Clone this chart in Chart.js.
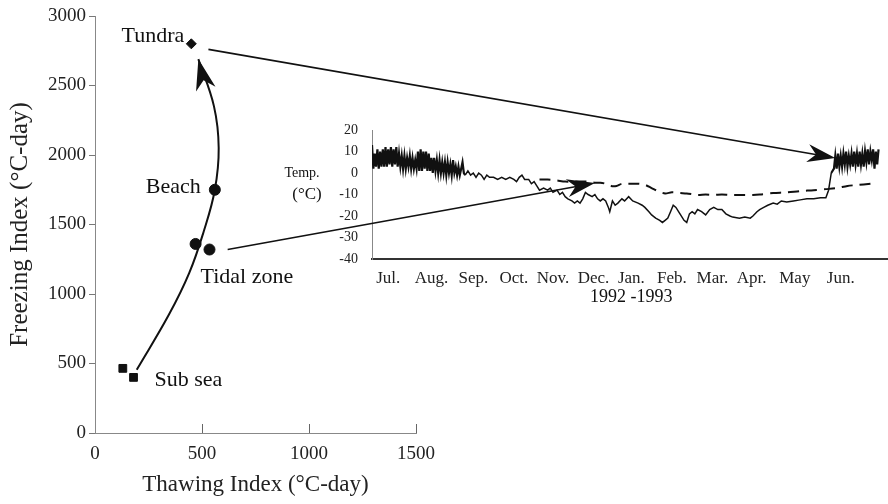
<!DOCTYPE html>
<html>
<head>
<meta charset="utf-8">
<script src="https://cdn.jsdelivr.net/npm/chart.js@4.4.0/dist/chart.umd.min.js"></script>
<style>
  html, body { margin: 0; padding: 0; background: #fff; }
  #wrap { position: relative; width: 888px; height: 504px; }
  #wrap canvas { position: absolute; left: 0; top: 0; }
  #inset { pointer-events: none; }
</style>
</head>
<body>
<div id="wrap">
  <canvas id="main" width="888" height="504"></canvas>
  <canvas id="inset" width="888" height="504"></canvas>
</div>
<script>
// ---- main chart: thawing vs freezing index ----
const tundraPts = [[450, 2800]];
const beachPts = [[560, 1750]];
const tidalPts = [[470, 1360], [535, 1320]];
const subseaPts = [[130, 465], [180, 400]];
const trendCurve = [[195, 455], [345, 850], [440, 1150], [508, 1450], [560, 1750], [578, 2050], [556, 2350], [483, 2690]];

// ---- inset: daily temperature 1992-1993 ----
const monthLabels = ["Jul.", "Aug.", "Sep.", "Oct.", "Nov.", "Dec.", "Jan.", "Feb.", "Mar.", "Apr.", "May", "Jun."];
const monthTickDays = [15, 47, 78, 108, 137, 167, 195, 225, 255, 284, 316, 350];
const tempTicks = [20, 10, 0, -10, -20, -30, -40];

// solid line (tundra)
const tundraDays = [
  3, 4, 5, 6, 7, 8, 9, 10, 11, 12, 13, 14, 15, 16, 17, 18, 19, 20, 21, 22, 23, 24, 25, 26, 27, 28, 29, 30,
  31, 32, 33, 34, 35, 36, 37, 38, 39, 40, 41, 42, 43, 44, 45, 46, 47, 48, 49, 50, 51, 52, 53, 54, 55, 56,
  57, 58, 59, 60, 61, 62, 63, 64, 65, 66, 67, 68, 69, 70, 71, 72,
  74, 76, 78, 80, 82, 84, 86, 88, 90, 93, 96, 99, 102, 105, 108, 110, 112, 114, 116, 119, 121, 123, 125,
  127, 130, 133, 135, 137, 140, 142, 144, 146, 148, 151, 153, 155, 157, 159, 161, 163, 166, 168, 170, 172,
  174, 176, 178, 179, 181, 183, 185, 188, 190, 193, 196, 200, 203, 205, 208, 210, 213, 216, 218, 220, 222,
  224, 226, 228, 231, 234, 236, 238, 240, 242, 244, 247, 250, 253, 256, 259, 262, 265, 268, 270, 275, 279,
  283, 285, 288, 290, 293, 296, 300, 303, 306, 310, 315, 320, 325, 330, 335, 339, 341, 343, 345,
  346, 347, 348, 349, 350, 351, 352, 353, 354, 355, 356, 357, 358, 359, 360, 361, 362, 363, 364, 365,
  366, 367, 368, 369, 370, 371, 372, 373, 374, 375, 376, 377, 378
];
const tundraTemps = [
  13, 2, 9, 3, 11, 2, 10, 3, 11, 3, 12, 3, 11, 4, 12, 3, 11, 4, 12, 3, 9, 3, 8, 2, 8, 2, 7, 3,
  8, 2, 7, 2, 6, 2, 10, 1, 11, 1, 10, 2, 10, 1, 9, 1, 7, 0, 7, 1, 6, 0, 6, 0, 5, 0,
  5, -1, 5, 0, 4, -1, 6, 0, 3, -1, 3, -1, 2, 5, 0, -1,
  1, -1, 0, -2, 0, -1, -3, -1, -2, -2, -3, -2, -3, -2, -3, -4, -2, -1, -3, -3, -5, -4, -6,
  -8, -7, -8, -7, -9, -8, -10, -9, -11, -12, -13, -14, -13, -14, -12, -9, -10, -11, -10, -12, -13,
  -12, -13, -16, -18, -13, -15, -14, -12, -13, -11, -13, -14, -15, -16, -18, -19.5, -21, -22, -23, -22, -21,
  -18, -15, -16, -19, -22, -23, -19, -18, -19, -17, -18, -19.5, -17, -16, -17, -17, -19, -20, -20.5, -21, -20.5,
  -21, -20, -18, -17, -16, -15, -14, -14.5, -13, -13.5, -13, -12.5, -12, -12, -11.5, -11.5, -8, 0, 2,
  8, 2, 9, 3, 8, 3, 9, 4, 10, 3, 8, 4, 9, 3, 10, 4, 9, 3, 10, 4,
  9, 3, 10, 5, 11, 4, 10, 6, 11, 2, 10, 4, 11
];

// dashed line (tidal zone)
const tidalDays = [127, 133, 140, 146, 152, 158, 163, 168, 172, 176, 180, 184, 188, 193, 200, 205, 210, 215, 220,
  225, 231, 236, 244, 250, 256, 262, 268, 275, 285, 290, 300, 310, 320, 330, 339, 347, 355, 362, 372];
const tidalTemps = [-3, -3, -3.5, -4, -4, -4, -4, -4.5, -4.5, -5, -6, -6, -5, -5, -5, -5.5, -7, -8.5, -9.5,
  -9, -9.3, -9.5, -10.2, -10, -10.2, -10, -10.2, -10.2, -10.2, -10, -9.3, -9, -8.4, -8, -7.5, -7, -6, -5.6, -5];

// arrows linking the two panels: start in (thaw, freeze), end in (day, temp)
const tundraLinkFrom = [530, 2760];
const tundraLinkTo = [346, 7];
const tidalLinkFrom = [620, 1320];
const tidalLinkTo = [168, -4.7];

const SERIF = "'Liberation Serif', 'DejaVu Serif', serif";
const INK = "#111";

function toXY(arr) {
  return arr.map(p => ({ x: p[0], y: p[1] }));
}
function zipXY(xs, ys) {
  return xs.map((x, i) => ({ x: x, y: ys[i] }));
}

function arrowHead(ctx, tipX, tipY, fromX, fromY, len, half) {
  const a = Math.atan2(tipY - fromY, tipX - fromX);
  const c = Math.cos(a), s = Math.sin(a);
  const bx = tipX - c * len, by = tipY - s * len;
  const nx = tipX - c * len * 0.7, ny = tipY - s * len * 0.7;
  ctx.beginPath();
  ctx.moveTo(tipX, tipY);
  ctx.lineTo(bx - s * half, by + c * half);
  ctx.lineTo(nx, ny);
  ctx.lineTo(bx + s * half, by - c * half);
  ctx.closePath();
  ctx.fill();
}

const mainDecor = {
  id: "mainDecor",
  afterDraw(chart) {
    const ctx = chart.ctx;
    const xs = chart.scales.x, ys = chart.scales.y;
    const px = p => [xs.getPixelForValue(p[0]), ys.getPixelForValue(p[1])];
    ctx.save();
    // inner ticks on the x axis
    ctx.strokeStyle = "#666";
    ctx.lineWidth = 1;
    [500, 1000, 1500].forEach(v => {
      const x = Math.round(xs.getPixelForValue(v)) + 0.5;
      ctx.beginPath();
      ctx.moveTo(x, ys.bottom);
      ctx.lineTo(x, ys.bottom - 9);
      ctx.stroke();
    });
    // arrow head at the end of the trend curve
    const n = trendCurve.length;
    const tip = px(trendCurve[n - 1]);
    const prev = px(trendCurve[n - 2]);
    ctx.fillStyle = INK;
    arrowHead(ctx, tip[0], tip[1], prev[0] - 4, prev[1], 31, 10);
    // site labels
    ctx.font = "22px " + SERIF;
    ctx.textBaseline = "middle";
    let p = px(tundraPts[0]);
    ctx.textAlign = "right";
    ctx.fillText("Tundra", p[0] - 7, p[1] - 8);
    p = px(beachPts[0]);
    ctx.fillText("Beach", p[0] - 14, p[1] - 3);
    ctx.textAlign = "left";
    p = px(tidalPts[0]);
    ctx.fillText("Tidal zone", p[0] + 5, p[1] + 33);
    p = px(subseaPts[1]);
    ctx.fillText("Sub sea", p[0] + 21, p[1] + 3);
    ctx.restore();
  }
};

const mainChart = new Chart(document.getElementById("main"), {
  type: "scatter",
  data: {
    datasets: [
      { data: toXY(tundraPts), pointStyle: "rectRot", pointRadius: 5, backgroundColor: INK, borderColor: INK },
      { data: toXY(beachPts), pointStyle: "circle", pointRadius: 5.5, backgroundColor: INK, borderColor: INK },
      { data: toXY(tidalPts), pointStyle: "circle", pointRadius: 5.5, backgroundColor: INK, borderColor: INK },
      { data: toXY(subseaPts), pointStyle: "rect", pointRadius: 5.5, backgroundColor: INK, borderColor: INK },
      { data: toXY(trendCurve), showLine: true, pointRadius: 0, borderColor: INK, borderWidth: 2, tension: 0.4 }
    ]
  },
  options: {
    responsive: false,
    animation: false,
    layout: { padding: { left: 0, top: 16, right: 472, bottom: 0 } },
    plugins: { legend: { display: false }, tooltip: { enabled: false } },
    scales: {
      x: {
        type: "linear", min: 0, max: 1500,
        ticks: { stepSize: 500, padding: 10, color: "#222", font: { family: SERIF, size: 19 }, callback: v => String(v) },
        grid: { drawOnChartArea: false, drawTicks: false },
        border: { color: "#888", dash: [2, 2], width: 1 },
        title: { display: true, text: "Thawing Index (°C-day)", color: "#222", font: { family: SERIF, size: 23 }, padding: { top: 0, bottom: 5 } },
        afterFit: s => { s.height = 71; }
      },
      y: {
        min: 0, max: 3000,
        ticks: { stepSize: 500, padding: 3, color: "#222", font: { family: SERIF, size: 19 }, callback: v => String(v) },
        grid: { drawOnChartArea: false, tickLength: 6, color: "#777" },
        border: { color: "#888", dash: [2, 2], width: 1 },
        title: { display: true, text: "Freezing Index (°C-day)", color: "#222", font: { family: SERIF, size: 25 }, padding: { top: 5, bottom: 0 } },
        afterFit: s => { s.width = 95; }
      }
    }
  },
  plugins: [mainDecor]
});

const insetDecor = {
  id: "insetDecor",
  afterDraw(chart) {
    const ctx = chart.ctx;
    const xs = chart.scales.x, ys = chart.scales.y;
    const mx = mainChart.scales.x, my = mainChart.scales.y;
    ctx.save();
    ctx.fillStyle = INK;
    ctx.textAlign = "center";
    ctx.textBaseline = "middle";
    ctx.font = "14px " + SERIF;
    ctx.fillText("Temp.", xs.left - 70, ys.getPixelForValue(0));
    ctx.font = "17px " + SERIF;
    ctx.fillText("(°C)", xs.left - 65, ys.getPixelForValue(-10));
    ctx.font = "18px " + SERIF;
    ctx.fillText("1992 -1993", xs.getPixelForValue(195), ys.bottom + 38);

    ctx.strokeStyle = INK;
    ctx.lineWidth = 1.6;
    const links = [[tundraLinkFrom, tundraLinkTo], [tidalLinkFrom, tidalLinkTo]];
    links.forEach(([from, to]) => {
      const x0 = mx.getPixelForValue(from[0]), y0 = my.getPixelForValue(from[1]);
      const x1 = xs.getPixelForValue(to[0]), y1 = ys.getPixelForValue(to[1]);
      ctx.beginPath();
      ctx.moveTo(x0, y0);
      ctx.lineTo(x1 - (x1 - x0) * 0.02, y1 - (y1 - y0) * 0.02);
      ctx.stroke();
      arrowHead(ctx, x1, y1, x0, y0, 28, 9);
    });
    ctx.restore();
  }
};

const insetChart = new Chart(document.getElementById("inset"), {
  type: "scatter",
  data: {
    datasets: [
      {
        data: zipXY(tundraDays, tundraTemps), showLine: true, pointRadius: 0, borderColor: INK, borderWidth: 2.2, tension: 0,
        // the daily-noise stretches look heavier than the smooth winter trace
        segment: { borderWidth: c => (c.p0.parsed.x >= 72 && c.p1.parsed.x <= 343) ? 1.5 : 2.2 }
      },
      { data: zipXY(tidalDays, tidalTemps), showLine: true, pointRadius: 0, borderColor: INK, borderWidth: 2, borderDash: [11, 7], tension: 0.3 }
    ]
  },
  options: {
    responsive: false,
    animation: false,
    layout: { padding: { left: 292, top: 130, right: 0, bottom: 205 } },
    plugins: { legend: { display: false }, tooltip: { enabled: false } },
    scales: {
      x: {
        type: "linear", min: 3, max: 385,
        afterBuildTicks: s => { s.ticks = monthTickDays.map(v => ({ value: v })); },
        ticks: {
          autoSkip: false, maxRotation: 0, padding: 1, color: "#222",
          font: { family: SERIF, size: 17 },
          callback: (v, i) => monthLabels[i]
        },
        grid: { display: false },
        border: { color: "#333", width: 2 },
        afterFit: s => { s.height = 40; }
      },
      y: {
        min: -40, max: 20,
        afterBuildTicks: s => { s.ticks = tempTicks.map(v => ({ value: v })); },
        ticks: { padding: 6, color: "#222", font: { family: SERIF, size: 14 } },
        grid: { display: false },
        border: { color: "#888", dash: [2, 2], width: 1 },
        afterFit: s => { s.width = 80; }
      }
    }
  },
  plugins: [insetDecor]
});
</script>
</body>
</html>
